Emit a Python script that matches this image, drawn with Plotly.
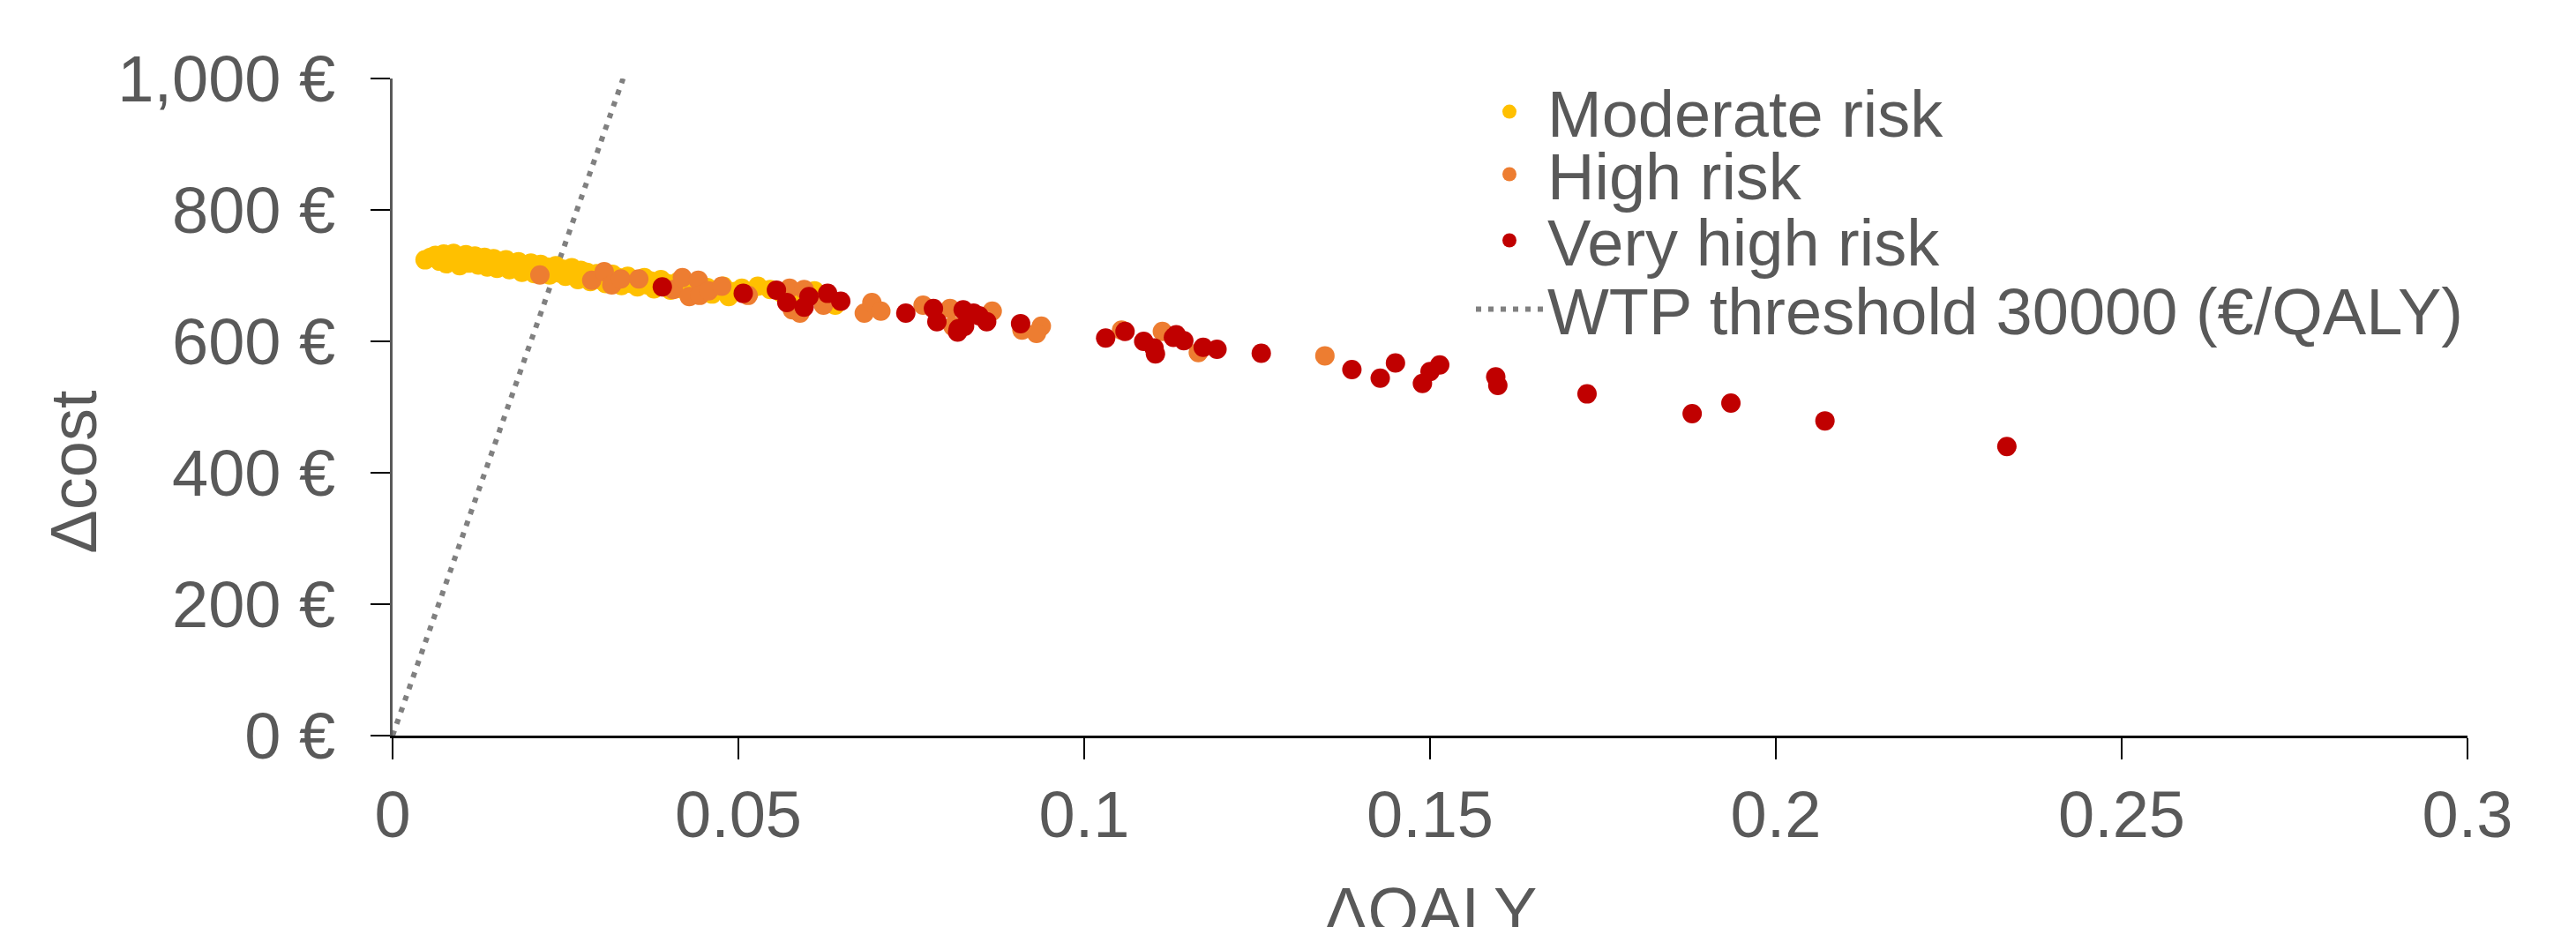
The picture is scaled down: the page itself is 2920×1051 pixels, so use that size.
import plotly.graph_objects as go

# ---------------- data ----------------
moderate_x = [0.0047, 0.0055, 0.0062, 0.0068, 0.0074, 0.0078, 0.0083, 0.0088, 0.0092, 0.0097,
              0.0101, 0.0106, 0.0110, 0.0115, 0.0119, 0.0124, 0.0128, 0.0133, 0.0137, 0.0142,
              0.0146, 0.0151, 0.0155, 0.0160, 0.0164, 0.0169, 0.0173, 0.0178, 0.0182, 0.0187,
              0.0191, 0.0196, 0.0200, 0.0205, 0.0209, 0.0214, 0.0218, 0.0223, 0.0227, 0.0232,
              0.0236, 0.0241, 0.0245, 0.0250, 0.0254, 0.0259, 0.0263, 0.0268, 0.0272, 0.0277,
              0.0281, 0.0286, 0.0290, 0.0295, 0.0299, 0.0304, 0.0308, 0.0313, 0.0318, 0.0322,
              0.0327, 0.0331, 0.0336, 0.0340, 0.0345, 0.0350, 0.0354, 0.0359, 0.0364, 0.0368,
              0.0373, 0.0378, 0.0383, 0.0388, 0.0392, 0.0397, 0.0402, 0.0408, 0.0413, 0.0418,
              0.0424, 0.0430, 0.0436, 0.0442, 0.0448, 0.0455, 0.0462, 0.0470, 0.0478, 0.0486,
              0.0495, 0.0505, 0.0515, 0.0528, 0.0546, 0.0562, 0.0590, 0.0610, 0.0640]
moderate_y = [724, 728, 731, 722, 733, 718, 729, 734, 721, 715,
              727, 732, 719, 725, 730, 716, 722, 728, 713, 719,
              726, 711, 722, 716, 724, 709, 718, 713, 721, 705,
              716, 710, 719, 703, 712, 717, 707, 713, 701, 709,
              715, 704, 710, 699, 707, 712, 702, 694, 708, 700,
              705, 691, 698, 703, 694, 700, 688, 696, 702, 690,
              697, 685, 693, 699, 688, 694, 683, 691, 697, 686,
              692, 680, 689, 694, 683, 688, 678, 686, 691, 680,
              685, 675, 683, 688, 677, 682, 672, 679, 684, 668,
              676, 681, 673, 684, 679, 674, 667, 677, 655]

high_x = [0.0213, 0.0288, 0.0306, 0.0317, 0.0330, 0.0356, 0.0406, 0.0419, 0.0429, 0.0442,
          0.0444, 0.0457, 0.0476, 0.0514, 0.0574, 0.0578, 0.0589, 0.0595, 0.0623, 0.0682,
          0.0693, 0.0706, 0.0767, 0.0806, 0.0810, 0.0867, 0.0910, 0.0938, 0.0931, 0.1054,
          0.1113, 0.1165, 0.1348]
high_y = [701, 693, 706, 686, 695, 695, 679, 697, 668, 693,
          670, 677, 684, 670, 681, 648, 643, 679, 655, 643,
          659, 646, 655, 650, 623, 646, 617, 623, 612, 617,
          615, 583, 578]

vhigh_x = [0.0390, 0.0507, 0.0555, 0.0570, 0.0595, 0.0602, 0.0629, 0.0648, 0.0742, 0.0782,
           0.0787, 0.0817, 0.0818, 0.0827, 0.0825, 0.0840, 0.0848, 0.0859, 0.0908, 0.1031,
           0.1059, 0.1086, 0.1101, 0.1103, 0.1129, 0.1133, 0.1144, 0.1172, 0.1192, 0.1256,
           0.1387, 0.1428, 0.1450, 0.1489, 0.1500, 0.1514, 0.1595, 0.1598, 0.1727, 0.1879,
           0.1935, 0.2071, 0.2334]
vhigh_y = [683, 673, 678, 659, 652, 668, 673, 661, 643, 650,
           630, 614, 619, 623, 648, 643, 639, 630, 627, 605,
           615, 600, 590, 581, 606, 610, 601, 591, 588, 582,
           557, 544, 567, 536, 554, 564, 546, 533, 520, 490,
           506, 479, 440]

wtp_threshold = 30000          # €/QALY
y_max = 1000
wtp_x = [0, y_max / wtp_threshold]
wtp_y = [0, y_max]

series_names = ["Moderate risk", "High risk", "Very high risk", "WTP threshold 30000 (€/QALY)"]
x_ticks = [0, 0.05, 0.1, 0.15, 0.2, 0.25, 0.3]
y_ticks = [0, 200, 400, 600, 800, 1000]
x_title = "ΔQALY"
y_title = "Δcost"

# ---------------- style ----------------
FONT = "Liberation Sans, Arial, sans-serif"
TXT = "#595959"
FS = 74
MS = 22

# page has an 8px body margin: figure is sized to fill the rest of the window
OFF = 8
W, H = 2920 - OFF, 1051 - OFF
plot_left, plot_right, plot_top, plot_bottom = 445, 2797, 89, 834.5   # page coords
L = plot_left - OFF
R = (W + OFF) - plot_right
T = plot_top - OFF
B = (H + OFF) - plot_bottom
pw, ph = W - L - R, H - T - B


def px_x(px):
    return (px - plot_left) / pw


def px_y(py):
    return (plot_bottom - py) / ph


fig = go.Figure()
fig.add_trace(go.Scatter(x=wtp_x, y=wtp_y, mode="lines", name=series_names[3],
                         line=dict(color="#808080", width=6, dash="6px,8px"),
                         legend="legend4"))
fig.add_trace(go.Scatter(x=moderate_x, y=moderate_y, mode="markers", name=series_names[0],
                         marker=dict(color="#FFC000", size=MS, line=dict(width=0)),
                         legend="legend"))
fig.add_trace(go.Scatter(x=high_x, y=high_y, mode="markers", name=series_names[1],
                         marker=dict(color="#ED7D31", size=MS, line=dict(width=0)),
                         legend="legend2"))
fig.add_trace(go.Scatter(x=vhigh_x, y=vhigh_y, mode="markers", name=series_names[2],
                         marker=dict(color="#C00000", size=MS, line=dict(width=0)),
                         legend="legend3"))

leg_common = dict(xanchor="left", yanchor="middle", bgcolor="rgba(0,0,0,0)",
                  font=dict(family=FONT, size=FS, color=TXT), itemsizing="trace",
                  itemwidth=76, borderwidth=0)
legend_rows = [127, 198, 273, 351]
lx = px_x(1668)

fig.update_layout(
    width=W, height=H, autosize=False,
    margin=dict(l=L, r=R, t=T, b=B, pad=0),
    paper_bgcolor="white", plot_bgcolor="white",
    font=dict(family=FONT, size=FS, color=TXT),
    showlegend=True,
    legend=dict(x=lx, y=px_y(legend_rows[0]), **leg_common),
    legend2=dict(x=lx, y=px_y(legend_rows[1]), **leg_common),
    legend3=dict(x=lx, y=px_y(legend_rows[2]), **leg_common),
    legend4=dict(x=lx, y=px_y(legend_rows[3]), **leg_common),
    xaxis=dict(range=[0, 0.3], tickvals=x_ticks, ticktext=[f"{v:g}" for v in x_ticks],
               showgrid=False, zeroline=False,
               showline=True, linecolor="#000000", linewidth=3,
               ticks="outside", ticklen=24, tickwidth=2, tickcolor="#000000",
               tickfont=dict(family=FONT, size=FS, color=TXT),
               ticklabelstandoff=-1, automargin=False),
    yaxis=dict(range=[0, 1000], tickvals=y_ticks,
               ticktext=[f"{v:,} €" for v in y_ticks],
               showgrid=False, zeroline=False,
               showline=True, linecolor="#595959", linewidth=3,
               ticks="outside", ticklen=22, tickwidth=2, tickcolor="#000000",
               tickfont=dict(family=FONT, size=FS, color=TXT),
               ticklabelstandoff=25, automargin=False),
    annotations=[
        dict(text=x_title, xref="paper", yref="paper", x=px_x(1621), y=px_y(990),
             xanchor="center", yanchor="top", showarrow=False,
             font=dict(family=FONT, size=FS, color=TXT)),
        dict(text=y_title, xref="paper", yref="paper", x=px_x(84), y=px_y(535),
             xanchor="center", yanchor="middle", textangle=-90, showarrow=False,
             font=dict(family=FONT, size=FS, color=TXT)),
    ],
)

fig.write_html("out.html")
